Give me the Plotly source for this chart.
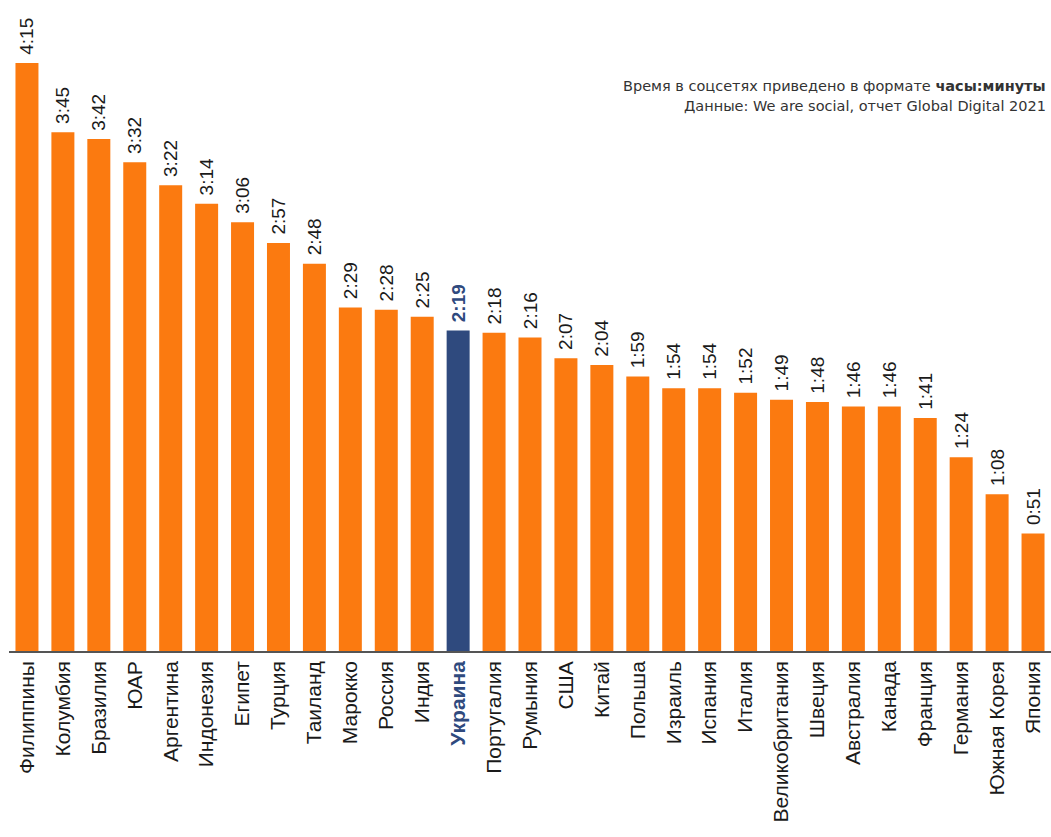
import plotly.graph_objects as go

countries = ["Филиппины", "Колумбия", "Бразилия", "ЮАР", "Аргентина", "Индонезия", "Египет",
             "Турция", "Таиланд", "Марокко", "Россия", "Индия", "Украина", "Португалия",
             "Румыния", "США", "Китай", "Польша", "Израиль", "Испания", "Италия",
             "Великобритания", "Швеция", "Австралия", "Канада", "Франция", "Германия",
             "Южная Корея", "Япония"]
labels = ["4:15", "3:45", "3:42", "3:32", "3:22", "3:14", "3:06", "2:57", "2:48", "2:29",
          "2:28", "2:25", "2:19", "2:18", "2:16", "2:07", "2:04", "1:59", "1:54", "1:54",
          "1:52", "1:49", "1:48", "1:46", "1:46", "1:41", "1:24", "1:08", "0:51"]
minutes = [255, 225, 222, 212, 202, 194, 186, 177, 168, 149, 148, 145, 139, 138, 136, 127,
           124, 119, 114, 114, 112, 109, 108, 106, 106, 101, 84, 68, 51]
highlight = "Украина"

ORANGE = "#FB7A10"
NAVY = "#2F4A7E"
FONT = "Liberation Sans"
NOTE_FONT = "DejaVu Sans"

colors = [NAVY if c == highlight else ORANGE for c in countries]
text_colors = [NAVY if c == highlight else "#1a1a1a" for c in countries]
texts = ["\u00a0" + (f"<b>{l}</b>" if c == highlight else l) for c, l in zip(countries, labels)]
ticktext = [f"<b><span style='color:{NAVY}'>{c}</span></b>" if c == highlight else c for c in countries]

fig = go.Figure(go.Bar(
    x=countries, y=minutes, marker=dict(color=colors, line=dict(width=0)),
    text=texts, textposition="outside", textangle=-90, constraintext="none",
    textfont=dict(size=19, color=text_colors, family=FONT),
    cliponaxis=False, width=0.64,
))

fig.update_layout(
    width=1051, height=837,
    margin=dict(l=9, r=0, t=10, b=186),
    plot_bgcolor="white", paper_bgcolor="white",
    showlegend=False,
    font=dict(family=FONT, color="#1a1a1a"),
    xaxis=dict(tickmode="array", tickvals=countries, ticktext=ticktext, tickangle=-90,
               tickfont=dict(size=21, color="#1a1a1a", family=FONT),
               showline=True, linecolor="#555555", linewidth=1.5, ticks="",
               showgrid=False, range=[-0.5, len(countries) - 0.5]),
    yaxis=dict(visible=False, range=[0, 278], showgrid=False),
    annotations=[
        dict(xref="paper", yref="paper", x=0.996, y=0.8814, xanchor="right", yanchor="middle",
             text="Время в соцсетях приведено в формате <b>часы:минуты</b>", borderpad=0,
             showarrow=False, align="right", font=dict(size=14.5, color="#333333", family=NOTE_FONT)),
        dict(xref="paper", yref="paper", x=0.996, y=0.8502, xanchor="right", yanchor="middle",
             text="Данные: We are social, отчет Global Digital 2021", borderpad=0,
             showarrow=False, align="right", font=dict(size=14.5, color="#333333", family=NOTE_FONT)),
    ],
)

fig.write_html("out.html")
